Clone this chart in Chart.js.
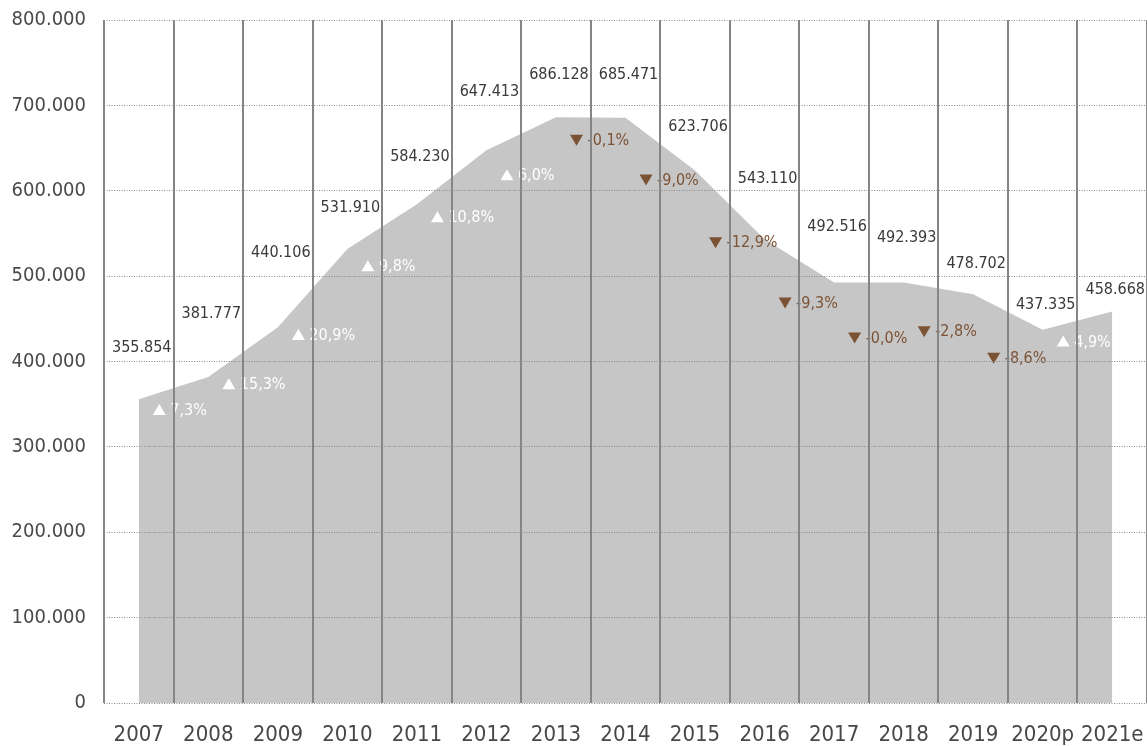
<!DOCTYPE html>
<html>
<head>
<meta charset="utf-8">
<script src="https://cdn.jsdelivr.net/npm/chart.js@4"></script>
<style>
  html, body { margin: 0; padding: 0; background: #fff; }
  #wrap { width: 1147px; height: 746px; }
</style>
</head>
<body>
<div id="wrap"><canvas id="chart" width="1147" height="746"></canvas></div>
<script>
// data
const years = ['2007', '2008', '2009', '2010', '2011', '2012', '2013', '2014', '2015', '2016', '2017', '2018', '2019', '2020p', '2021e'];
const volumes = [355854, 381777, 440106, 531910, 584230, 647413, 686128, 685471, 623706, 543110, 492516, 492393, 478702, 437335, 458668];
const changes = [null, 7.3, 15.3, 20.9, 9.8, 10.8, 6.0, -0.1, -9.0, -12.9, -9.3, -0.0, -2.8, -8.6, 4.9];
const yTicks = [0, 100000, 200000, 300000, 400000, 500000, 600000, 700000, 800000];

// label placement (pixels relative to each point)
const valueLift = [51, 63, 74, 41, 47, 58, 42, 43, 44, 60, 56, 45, 30, 25, 22];
const changeDrop = [0, 33, 57, 86, 62, 67, 58, 22, 9, 3, 20, 55, 37, 28, 30];
const changeShift = -49;

const FONT = '"DejaVu Sans Condensed", "DejaVu Sans", sans-serif';
const BROWN = '#7b5234';

function fmtThousands(v) {
    return String(v).replace(/\B(?=(\d{3})+(?!\d))/g, '.');
}
function fmtChange(v) {
    const neg = v < 0 || Object.is(v, -0);
    return (neg ? '-' : '') + Math.abs(v).toFixed(1).replace('.', ',') + '%';
}

// value labels and change markers
const labelPlugin = {
    id: 'labels',
    afterDatasetsDraw(chart) {
        const ctx = chart.ctx;
        const pts = chart.getDatasetMeta(0).data;
        ctx.save();
        ctx.font = '16px ' + FONT;
        ctx.textBaseline = 'middle';
        pts.forEach((p, i) => {
            ctx.fillStyle = '#3a3a3a';
            ctx.textAlign = 'center';
            ctx.fillText(fmtThousands(volumes[i]), p.x + 3, p.y - valueLift[i]);

            const c = changes[i];
            if (c === null) return;
            const up = !(c < 0 || Object.is(c, -0));
            const mx = p.x + changeShift;
            const my = p.y + changeDrop[i];
            ctx.fillStyle = up ? '#ffffff' : BROWN;
            ctx.beginPath();
            if (up) {
                ctx.moveTo(mx, my - 6);
                ctx.lineTo(mx + 6.5, my + 5);
                ctx.lineTo(mx - 6.5, my + 5);
            } else {
                ctx.moveTo(mx - 6.5, my - 5);
                ctx.lineTo(mx + 6.5, my - 5);
                ctx.lineTo(mx, my + 6);
            }
            ctx.closePath();
            ctx.fill();
            ctx.textAlign = 'left';
            ctx.fillText(fmtChange(c), mx + 11, my + 1);
        });
        ctx.restore();
    }
};

new Chart(document.getElementById('chart'), {
    type: 'line',
    data: {
        labels: years,
        datasets: [{
            data: volumes,
            fill: 'origin',
            backgroundColor: '#c6c6c6',
            borderWidth: 0,
            borderColor: 'rgba(0,0,0,0)',
            pointRadius: 0,
            tension: 0
        }]
    },
    options: {
        responsive: false,
        animation: false,
        layout: { padding: { top: 20, right: 0, left: 0, bottom: 0 } },
        plugins: {
            legend: { display: false },
            tooltip: { enabled: false }
        },
        scales: {
            x: {
                offset: true,
                grid: {
                    offset: true,
                    color: '#858585',
                    lineWidth: 2,
                    drawTicks: false,
                    z: 1
                },
                border: { display: false },
                ticks: {
                    color: '#474747',
                    font: { family: FONT, size: 22 },
                    padding: 19,
                    maxRotation: 0,
                    autoSkip: false
                },
                afterFit(scale) {
                    scale.height = 43;
                    scale.paddingLeft = 0;
                    scale.paddingRight = 0;
                }
            },
            y: {
                min: 0,
                max: 800000,
                afterBuildTicks(scale) {
                    scale.ticks = yTicks.map(v => ({ value: v }));
                },
                grid: {
                    color: '#8a8a8a',
                    lineWidth: 1,
                    drawTicks: false,
                    z: 1
                },
                border: { display: false, dash: [1, 1.5] },
                ticks: {
                    color: '#4a4a4a',
                    font: { family: FONT, size: 20 },
                    padding: 18,
                    callback: v => fmtThousands(v)
                },
                afterFit(scale) {
                    scale.width = 104;
                    scale.paddingTop = 0;
                    scale.paddingBottom = 0;
                }
            }
        }
    },
    plugins: [labelPlugin]
});
</script>
</body>
</html>
